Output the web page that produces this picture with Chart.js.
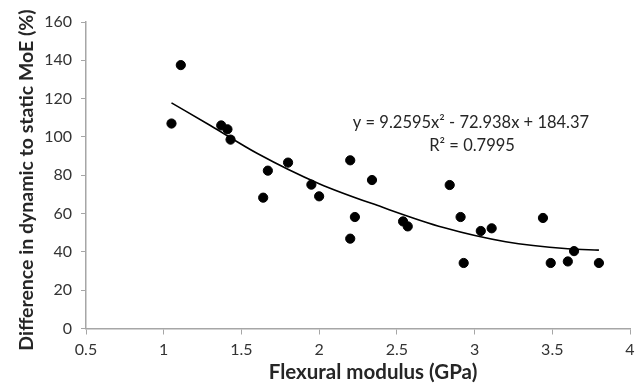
<!DOCTYPE html>
<html>
<head>
<meta charset="utf-8">
<script src="https://cdn.jsdelivr.net/npm/chart.js@4/dist/chart.umd.min.js"></script>
<style>
  html, body { margin: 0; padding: 0; background: #fff; }
  #wrap { width: 641px; height: 386px; position: relative; }
</style>
</head>
<body>
<div id="wrap"><canvas id="chart"></canvas></div>
<script>
// Points mesurés (module de flexion en GPa, différence en %)
const modulusGPa = [1.05, 1.11, 1.37, 1.41, 1.43, 1.64, 1.67, 1.80, 1.95, 2.00, 2.20, 2.20, 2.23, 2.34,
                    2.54, 2.57, 2.84, 2.91, 2.93, 3.04, 3.11, 3.44, 3.49, 3.60, 3.64, 3.80];
const diffPercent = [107, 137.5, 106, 104, 98.6, 68.3, 82.4, 86.6, 75.1, 69, 87.8, 46.9, 58.2, 77.5,
                     55.9, 53.3, 74.9, 58.2, 34.2, 50.9, 52.3, 57.7, 34.2, 35, 40.4, 34.2];

// Courbe de tendance
const trendX = [1.05, 1.3, 1.6, 2.0, 2.4, 2.8, 3.2, 3.6, 3.8];
const trendY = [117.8, 106, 91.5, 75.6, 63.5, 52.7, 45.3, 41.6, 40.9];

const xTicks = [0.5, 1, 1.5, 2, 2.5, 3, 3.5, 4];
const yTicks = [0, 20, 40, 60, 80, 100, 120, 140, 160];

const xTitle = 'Flexural modulus (GPa)';
const yTitle = 'Difference in dynamic to static MoE (%)';
const equationText = 'y = 9.2595x² - 72.938x + 184.37';
const r2Text = 'R² = 0.7995';

const FONT = 'Lato, "Open Sans", sans-serif';
const AXIS_GREY = '#a6a6a6';

const points = modulusGPa.map((x, i) => ({ x: x, y: diffPercent[i] }));
const trend = trendX.map((x, i) => ({ x: x, y: trendY[i] }));

// titres des axes + équation de la tendance
const labelsPlugin = {
    id: 'labels',
    afterDraw(chart) {
        const { ctx, scales } = chart;
        ctx.save();
        ctx.textAlign = 'center';
        ctx.textBaseline = 'middle';
        ctx.fillStyle = '#262626';

        ctx.font = '16.5px ' + FONT;
        ctx.fillText(equationText, scales.x.getPixelForValue(2.977), scales.y.getPixelForValue(107.2));
        ctx.fillText(r2Text, scales.x.getPixelForValue(2.984), scales.y.getPixelForValue(95.2));

        // Excel centre les titres sur la zone entière, pas sur le tracé
        ctx.font = 'bold 20.5px ' + FONT;
        ctx.fillText(xTitle, 373, 372);

        ctx.font = 'bold 19.5px ' + FONT;
        ctx.translate(26.5, 180);
        ctx.rotate(-Math.PI / 2);
        ctx.fillText(yTitle, 0, 0);
        ctx.restore();
    }
};

new Chart(document.getElementById('chart'), {
    type: 'scatter',
    data: {
        datasets: [
            {
                label: 'Trend',
                type: 'line',
                data: trend,
                borderColor: '#000',
                borderWidth: 1.6,
                pointRadius: 0,
                fill: false,
                cubicInterpolationMode: 'monotone'
            },
            {
                label: 'Data',
                data: points,
                backgroundColor: '#000',
                borderColor: '#000',
                pointRadius: 4.6,
                pointHoverRadius: 4.6
            }
        ]
    },
    options: {
        responsive: true,
        maintainAspectRatio: false,
        animation: false,
        devicePixelRatio: 1,
        layout: { padding: { left: 0, top: 22, right: 11, bottom: 0 } },
        plugins: { legend: { display: false }, tooltip: { enabled: false } },
        scales: {
            x: {
                type: 'linear',
                min: 0.5,
                max: 4,
                afterBuildTicks: (axis) => { axis.ticks = xTicks.map(v => ({ value: v })); },
                afterFit: (axis) => { axis.height = 57.5; },
                grid: { display: true, drawOnChartArea: false, drawTicks: true, tickLength: 6, color: AXIS_GREY, lineWidth: 1 },
                border: { color: AXIS_GREY, width: 1.5 },
                ticks: { color: '#333', font: { family: FONT, size: 16 }, padding: 6, maxRotation: 0,
                         callback: (v) => String(v) }
            },
            y: {
                type: 'linear',
                min: 0,
                max: 160,
                afterBuildTicks: (axis) => { axis.ticks = yTicks.map(v => ({ value: v })); },
                afterFit: (axis) => { axis.width = 86; },
                grid: { display: true, drawOnChartArea: false, drawTicks: true, tickLength: 5, color: AXIS_GREY, lineWidth: 1 },
                border: { color: AXIS_GREY, width: 1.5 },
                ticks: { color: '#333', font: { family: FONT, size: 16 }, padding: 9 }
            }
        }
    },
    plugins: [labelsPlugin]
});
</script>
</body>
</html>
